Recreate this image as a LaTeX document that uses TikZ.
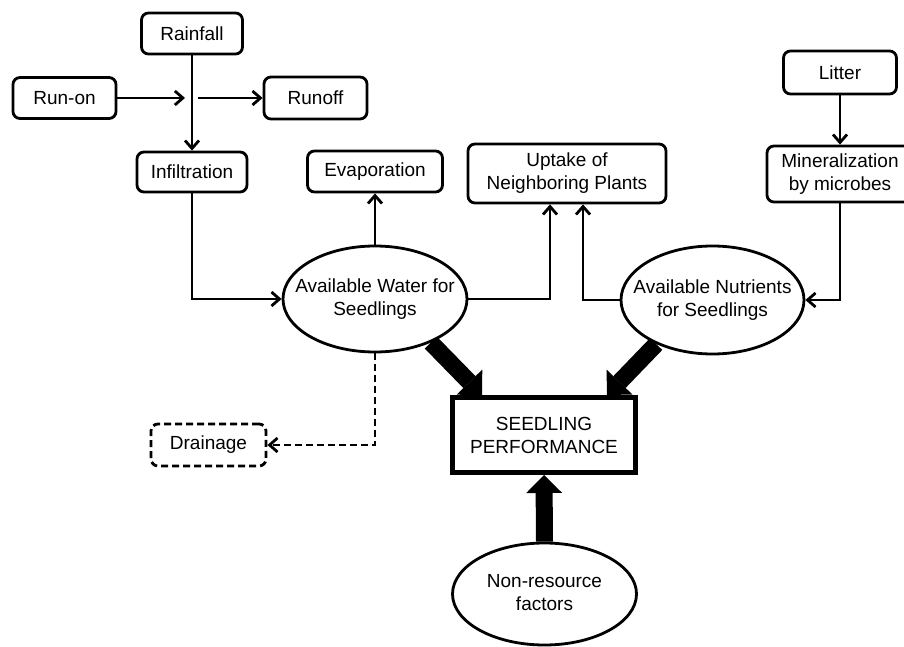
\documentclass[tikz,border=0pt]{standalone}
\usepackage{fontspec}
\setmainfont{Liberation Sans}
\usetikzlibrary{arrows.meta,shapes.geometric,calc}
\newcommand{\ztxt}[1]{\makebox[0pt]{\begin{tabular}{@{}c@{}}#1\end{tabular}}}
\begin{document}
\begin{tikzpicture}[x=1pt,y=1pt,
  every node/.style={font=\fontsize{19}{23}\selectfont, text=black},
  rbox/.style={draw, line width=2.8pt, rounded corners=7pt, align=center, inner sep=0pt},
  ell/.style={draw, ellipse, line width=2.8pt, inner sep=0pt},
  arr/.style={line width=2.8pt, -{Straight Barb[length=8pt,width=14pt]}},
  fat/.style={line width=17pt, -{Triangle[length=18pt,width=36pt,line width=0pt]}},
  dsh/.style={dash pattern=on 7pt off 4pt}]
\path[use as bounding box, fill=white] (0,0) rectangle (904,646);

\node[rbox, minimum width=101pt, minimum height=41pt] (rain) at (192,612.5) {Rainfall};
\node[rbox, minimum width=103pt, minimum height=41pt] (runon) at (64.5,548) {Run-on};
\node[rbox, minimum width=103pt, minimum height=42pt] (runoff) at (315.5,548) {Runoff};
\node[rbox, minimum width=110pt, minimum height=40pt] (infil) at (192,474) {Infiltration};
\node[rbox, minimum width=135pt, minimum height=41pt] (evap) at (375,474.5) {Evaporation};
\node[rbox, minimum width=198pt, minimum height=59pt] (upt) at (567,472.5) {Uptake of\\Neighboring Plants};
\node[rbox, minimum width=113pt, minimum height=43pt] (litter) at (840,573.5) {Litter};
\node[rbox, minimum width=146pt, minimum height=56pt] (mineral) at (840,472) {Mineralization\\by microbes};
\node[ell, minimum width=184pt, minimum height=106pt] (water) at (375,347) {\ztxt{Available Water for\\Seedlings}};
\node[ell, minimum width=183pt, minimum height=108pt] (nut) at (712.5,346) {\ztxt{Available Nutrients\\for Seedlings}};
\node[draw, line width=5pt, minimum width=183pt, minimum height=75pt, align=center, inner sep=0pt] (seed) at (544,211) {SEEDLING\\PERFORMANCE};
\node[rbox, dsh, minimum width=115pt, minimum height=42pt] (drain) at (208.5,201) {Drainage};
\node[ell, minimum width=184pt, minimum height=102pt] (nonres) at (544.5,52) {\ztxt{Non-resource\\factors}};

\coordinate (jL) at (185,548);
\coordinate (jR) at (198,548);

\draw[arr] (rain.south) -- (infil.north);
\draw[arr] (runon.east) -- (jL);
\draw[arr] (jR) -- (runoff.west);
\draw[arr] (infil.south) |- (water.west);
\draw[arr] (water.north) -- (evap.south);
\draw[arr] (water.east) -| ([xshift=-17pt]upt.south);
\draw[arr] (nut.west) -| ([xshift=16pt]upt.south);
\draw[arr] (litter.south) -- (mineral.north);
\draw[arr] (mineral.south) |- (nut.east);
\draw[arr,dsh] (water.south) |- (drain.east);
\draw[fat] (water.-38) -- ([xshift=32pt]seed.north west);
\draw[fat] (nut.-142) -- ([xshift=-31pt]seed.north east);
\draw[fat] (nonres.north) -- (seed.south);
\end{tikzpicture}
\end{document}
